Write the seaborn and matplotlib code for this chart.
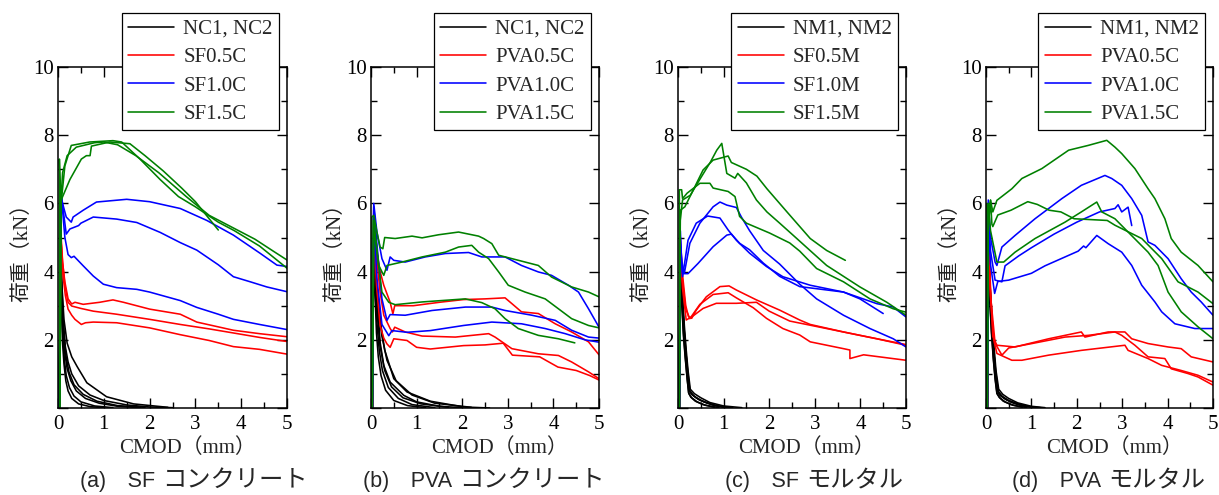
import numpy as np
import pandas as pd
import matplotlib
matplotlib.use("Agg")
import matplotlib.pyplot as plt
from matplotlib.lines import Line2D
from matplotlib.ticker import MultipleLocator
import seaborn as sns

# --- donnees (CMOD mm, charge kN) ---

# (a) SF concrete
a_nc = [
    ([0.03, 0.05, 0.08, 0.12, 0.16, 0.22, 0.3, 0.45, 0.7, 1.0, 1.5, 2.0, 2.5],
     [0, 4.8, 3.6, 2.5, 1.8, 1.35, 1.0, 0.65, 0.38, 0.22, 0.09, 0.03, 0.01]),
    ([0.03, 0.05, 0.08, 0.11, 0.15, 0.2, 0.28, 0.4, 0.6, 0.9, 1.3, 1.8],
     [0, 4.5, 3.3, 2.2, 1.6, 1.15, 0.8, 0.5, 0.28, 0.14, 0.05, 0.01]),
    ([0.03, 0.05, 0.08, 0.11, 0.14, 0.18, 0.25, 0.35, 0.5, 0.8, 1.2],
     [0, 4.2, 3.0, 2.0, 1.4, 0.95, 0.6, 0.35, 0.18, 0.06, 0.01]),
    ([0.03, 0.05, 0.08, 0.1, 0.13, 0.17, 0.22, 0.3, 0.45, 0.7, 1.0],
     [0, 4.0, 2.7, 1.9, 1.3, 0.8, 0.5, 0.28, 0.12, 0.04, 0.01]),
    ([0.03, 0.05, 0.08, 0.12, 0.17, 0.24, 0.35, 0.55, 0.85, 1.3, 1.9],
     [0, 4.6, 3.4, 2.3, 1.55, 1.05, 0.68, 0.4, 0.2, 0.07, 0.02]),
    ([0.03, 0.06, 0.09, 0.13, 0.2, 0.3, 0.42, 0.63, 1.06, 1.65, 2.4],
     [0, 4.9, 3.5, 2.6, 1.9, 1.5, 1.21, 0.74, 0.33, 0.12, 0.02]),
]
a_05 = [
    ([0.03, 0.06, 0.1, 0.15, 0.22, 0.3, 0.37, 0.55, 0.91, 1.2, 1.43, 2.0, 2.67, 3.03, 3.83, 4.4, 5.0],
     [0, 5.0, 4.26, 3.7, 3.2, 3.05, 3.1, 3.04, 3.1, 3.17, 3.1, 2.9, 2.75, 2.52, 2.28, 2.18, 2.09]),
    ([0.03, 0.06, 0.1, 0.15, 0.22, 0.3, 0.5, 0.77, 1.28, 2.0, 2.67, 3.3, 3.83, 4.4, 5.0],
     [0, 5.2, 4.3, 3.6, 3.1, 2.99, 2.92, 2.84, 2.75, 2.6, 2.45, 2.32, 2.2, 2.07, 1.95]),
    ([0.03, 0.06, 0.1, 0.16, 0.22, 0.3, 0.37, 0.51, 0.6, 0.77, 1.28, 2.0, 2.67, 3.3, 3.83, 4.4, 5.0],
     [0, 5.1, 4.0, 3.3, 2.9, 2.72, 2.6, 2.45, 2.5, 2.52, 2.5, 2.35, 2.15, 1.98, 1.8, 1.72, 1.58]),
]
a_10 = [
    ([0.03, 0.06, 0.1, 0.18, 0.29, 0.33, 0.55, 0.84, 1.5, 2.0, 2.67, 3.25, 3.83, 4.41, 4.78, 5.0],
     [0, 6.3, 6.0, 5.6, 5.45, 5.6, 5.8, 6.04, 6.12, 6.05, 5.85, 5.5, 5.07, 4.54, 4.19, 4.15]),
    ([0.03, 0.06, 0.1, 0.18, 0.26, 0.45, 0.5, 0.77, 1.28, 1.72, 2.23, 2.67, 3.03, 3.5, 3.83, 4.2, 4.56, 5.0],
     [0, 6.4, 5.95, 5.1, 5.25, 5.35, 5.42, 5.6, 5.54, 5.44, 5.15, 4.85, 4.63, 4.2, 3.85, 3.7, 3.55, 3.41]),
    ([0.03, 0.06, 0.1, 0.15, 0.22, 0.29, 0.35, 0.55, 0.77, 0.99, 1.28, 1.72, 2.0, 2.67, 3.03, 3.5, 3.83, 4.4, 5.0],
     [0, 6.3, 5.8, 5.0, 4.5, 4.41, 4.45, 4.17, 3.87, 3.63, 3.53, 3.48, 3.4, 3.15, 2.95, 2.75, 2.6, 2.45, 2.3]),
]
a_15 = [
    ([0.03, 0.03, 0.06, 0.1, 0.2, 0.4, 0.8, 1.0, 1.3, 1.7, 2.2, 2.8, 3.3, 3.8, 4.3, 4.7, 5.0],
     [0, 7.3, 6.0, 6.9, 7.4, 7.65, 7.78, 7.8, 7.72, 7.4, 6.9, 6.2, 5.65, 5.3, 4.95, 4.6, 4.34]),
    ([0.04, 0.07, 0.26, 0.51, 0.62, 0.7, 0.73, 1.13, 1.57, 1.9, 2.3, 2.7, 3.0, 3.3, 3.5],
     [0, 6.1, 6.7, 7.3, 7.4, 7.4, 7.68, 7.8, 7.75, 7.4, 6.95, 6.45, 6.05, 5.55, 5.22]),
    ([0.04, 0.07, 0.15, 0.29, 0.69, 1.2, 1.39, 1.79, 2.23, 2.63, 3.0, 3.5, 3.85, 4.4, 5.0],
     [0, 6.04, 7.1, 7.7, 7.8, 7.84, 7.8, 7.3, 6.7, 6.2, 5.9, 5.45, 5.2, 4.75, 4.1]),
]

# (b) PVA concrete
b_nc = [
    ([0.03, 0.06, 0.1, 0.15, 0.2, 0.28, 0.42, 0.72, 1.0, 1.5, 2.0],
     [0, 5.0, 4.0, 2.9, 1.93, 1.25, 0.76, 0.37, 0.18, 0.05, 0.01]),
    ([0.03, 0.06, 0.1, 0.15, 0.22, 0.3, 0.5, 0.79, 1.3, 2.03, 2.6],
     [0, 5.2, 4.2, 3.2, 2.4, 1.7, 0.86, 0.47, 0.2, 0.03, 0.0]),
    ([0.03, 0.06, 0.09, 0.13, 0.18, 0.25, 0.38, 0.6, 0.9, 1.4],
     [0, 4.8, 3.6, 2.5, 1.7, 1.1, 0.6, 0.28, 0.1, 0.01]),
    ([0.03, 0.06, 0.09, 0.12, 0.16, 0.22, 0.32, 0.5, 0.8, 1.2],
     [0, 4.6, 3.3, 2.2, 1.5, 0.95, 0.52, 0.22, 0.07, 0.01]),
    ([0.03, 0.06, 0.1, 0.14, 0.2, 0.3, 0.45, 0.7, 1.1, 1.7],
     [0, 4.9, 3.8, 2.7, 1.8, 1.1, 0.62, 0.3, 0.12, 0.02]),
    ([0.03, 0.06, 0.1, 0.16, 0.24, 0.35, 0.55, 0.9, 1.4, 2.2],
     [0, 5.1, 4.1, 3.0, 2.1, 1.4, 0.8, 0.38, 0.14, 0.02]),
]
b_05 = [
    ([0.03, 0.06, 0.13, 0.2, 0.28, 0.42, 0.48, 0.52, 0.93, 1.5, 2.03, 2.5, 2.94, 3.09, 3.3, 3.67, 4.04, 4.4, 4.77, 5.0],
     [0, 5.8, 4.57, 4.0, 3.6, 3.1, 2.76, 3.0, 3.0, 3.1, 3.18, 3.2, 3.23, 3.06, 2.82, 2.77, 2.47, 2.23, 1.94, 1.56]),
    ([0.03, 0.06, 0.13, 0.2, 0.28, 0.42, 0.47, 0.52, 0.75, 1.12, 1.85, 2.58, 2.72, 3.09, 3.67, 4.11, 4.4, 4.77, 5.0],
     [0, 5.6, 4.3, 3.4, 2.72, 2.33, 2.23, 2.37, 2.23, 2.11, 2.08, 2.18, 2.08, 1.74, 1.59, 1.54, 1.35, 1.06, 0.86]),
    ([0.03, 0.06, 0.12, 0.2, 0.28, 0.35, 0.42, 0.5, 0.79, 1.0, 1.3, 2.03, 2.5, 2.9, 3.1, 3.7, 4.1, 4.5, 4.8, 5.0],
     [0, 5.4, 3.6, 2.42, 2.05, 1.88, 1.78, 2.03, 1.98, 1.78, 1.73, 1.83, 1.85, 1.9, 1.55, 1.5, 1.2, 1.1, 0.95, 0.82]),
]
b_10 = [
    ([0.03, 0.06, 0.13, 0.24, 0.35, 0.42, 0.5, 0.75, 1.19, 1.63, 2.14, 2.43, 2.94, 3.3, 3.67, 3.96, 4.33, 4.55, 4.77, 5.0],
     [0, 6.0, 5.16, 4.38, 4.04, 4.43, 4.33, 4.28, 4.43, 4.53, 4.56, 4.43, 4.43, 4.18, 3.99, 3.89, 3.6, 3.4, 2.91, 2.37]),
    ([0.03, 0.06, 0.13, 0.24, 0.35, 0.42, 0.75, 1.34, 2.07, 2.65, 2.94, 3.53, 4.04, 4.4, 4.77, 5.0],
     [0, 5.9, 4.8, 3.2, 2.57, 2.74, 2.72, 2.86, 2.96, 2.96, 2.86, 2.72, 2.57, 2.28, 2.08, 2.05]),
    ([0.03, 0.06, 0.13, 0.24, 0.39, 0.46, 0.79, 1.3, 2.03, 2.65, 3.3, 3.82, 4.26, 4.69, 5.0],
     [0, 5.7, 3.8, 2.45, 2.12, 2.27, 2.22, 2.27, 2.42, 2.52, 2.47, 2.33, 2.18, 2.0, 1.93]),
]
b_15 = [
    ([0.02, 0.02, 0.06, 0.13, 0.2, 0.26, 0.3, 0.53, 0.9, 1.12, 1.48, 1.92, 2.36, 2.47, 2.65, 2.8, 3.09, 3.67, 3.96, 4.4, 4.77, 5.0],
     [0, 5.6, 5.65, 5.16, 4.72, 4.67, 5.0, 4.97, 5.04, 4.99, 5.08, 5.16, 5.04, 4.97, 4.82, 4.48, 4.38, 4.18, 3.84, 3.55, 3.4, 3.26]),
    ([0.03, 0.06, 0.17, 0.28, 0.35, 0.68, 1.12, 1.63, 1.92, 2.21, 2.36, 2.58, 2.8, 3.01, 3.38, 3.82, 4.11, 4.4, 4.77, 5.0],
     [0, 5.5, 4.18, 3.89, 4.18, 4.28, 4.43, 4.57, 4.72, 4.77, 4.57, 4.38, 3.99, 3.6, 3.4, 3.2, 2.91, 2.62, 2.42, 2.35]),
    ([0.03, 0.06, 0.24, 0.39, 0.53, 1.12, 2.07, 2.43, 2.72, 2.94, 3.23, 3.67, 4.11, 4.47],
     [0, 5.3, 3.4, 3.1, 3.03, 3.11, 3.2, 3.09, 2.91, 2.62, 2.33, 2.13, 2.03, 1.91]),
]

# (c) SF mortar
c_nm = [
    ([0.03, 0.05, 0.09, 0.13, 0.17, 0.21, 0.24, 0.3, 0.4, 0.57, 0.8, 1.1],
     [0, 4.4, 3.3, 2.3, 1.6, 1.0, 0.54, 0.4, 0.3, 0.18, 0.07, 0.01]),
    ([0.03, 0.05, 0.09, 0.13, 0.17, 0.21, 0.25, 0.32, 0.45, 0.65, 0.9, 1.2],
     [0, 4.5, 3.4, 2.4, 1.7, 1.05, 0.5, 0.38, 0.25, 0.14, 0.05, 0.01]),
    ([0.03, 0.05, 0.08, 0.12, 0.16, 0.2, 0.23, 0.28, 0.38, 0.55, 0.8],
     [0, 4.2, 3.2, 2.2, 1.5, 0.9, 0.45, 0.32, 0.2, 0.1, 0.02]),
    ([0.03, 0.05, 0.09, 0.13, 0.17, 0.22, 0.26, 0.35, 0.5, 0.75, 1.0],
     [0, 4.3, 3.3, 2.35, 1.65, 1.0, 0.5, 0.35, 0.22, 0.1, 0.02]),
    ([0.03, 0.05, 0.08, 0.12, 0.16, 0.2, 0.24, 0.3, 0.42, 0.6, 0.9],
     [0, 4.1, 3.1, 2.1, 1.45, 0.85, 0.42, 0.3, 0.18, 0.08, 0.01]),
    ([0.03, 0.05, 0.09, 0.14, 0.18, 0.22, 0.27, 0.36, 0.5, 0.7, 1.0, 1.4],
     [0, 4.6, 3.5, 2.4, 1.7, 1.1, 0.55, 0.42, 0.3, 0.16, 0.06, 0.01]),
]
c_05 = [
    ([0.03, 0.05, 0.1, 0.17, 0.23, 0.3, 0.4, 0.62, 0.92, 1.12, 1.28, 1.72, 2.23, 2.67, 2.9, 3.63, 4.36, 5.0],
     [0, 5.0, 3.9, 3.0, 2.68, 2.63, 2.87, 3.26, 3.56, 3.58, 3.46, 3.17, 2.87, 2.58, 2.45, 2.23, 2.03, 1.84]),
    ([0.03, 0.05, 0.1, 0.17, 0.26, 0.48, 0.77, 1.1, 1.28, 1.65, 1.94, 2.3, 2.67, 2.9, 3.63, 3.77, 3.77, 4.07, 5.0],
     [0, 4.8, 3.7, 2.9, 2.62, 3.04, 3.33, 3.38, 3.23, 2.94, 2.63, 2.33, 2.14, 1.94, 1.74, 1.7, 1.45, 1.56, 1.4]),
    ([0.03, 0.05, 0.1, 0.18, 0.33, 0.55, 0.84, 1.28, 1.72, 2.0, 2.45, 3.26, 3.99, 5.0],
     [0, 4.6, 3.5, 2.58, 2.7, 2.92, 3.07, 3.07, 3.1, 2.84, 2.55, 2.33, 2.13, 1.86]),
]
c_10 = [
    ([0.03, 0.05, 0.08, 0.14, 0.26, 0.48, 0.77, 0.92, 1.07, 1.28, 1.39, 1.57, 1.87, 2.23, 2.67, 3.04, 3.63, 4.21, 4.72, 5.0],
     [0, 5.2, 4.3, 3.96, 4.83, 5.42, 5.9, 6.04, 5.95, 5.88, 5.6, 5.2, 4.62, 4.22, 3.63, 3.2, 2.72, 2.33, 2.03, 1.79]),
    ([0.03, 0.05, 0.1, 0.22, 0.4, 0.65, 0.92, 1.1, 1.28, 1.57, 1.94, 2.3, 2.9, 3.63, 4.36, 4.72, 5.0],
     [0, 5.0, 3.85, 4.92, 5.42, 5.63, 5.57, 5.22, 4.92, 4.54, 4.15, 3.85, 3.6, 3.4, 3.06, 2.96, 2.67]),
    ([0.03, 0.05, 0.1, 0.22, 0.44, 0.77, 1.07, 1.17, 1.35, 1.57, 1.87, 2.23, 2.67, 3.63, 3.99, 4.5],
     [0, 4.8, 3.94, 3.94, 4.24, 4.73, 5.07, 5.1, 4.83, 4.64, 4.25, 3.86, 3.56, 3.4, 3.2, 2.77]),
]
c_15 = [
    ([0.03, 0.05, 0.1, 0.27, 0.49, 0.71, 0.85, 0.96, 1.07, 1.25, 1.31, 1.5, 1.72, 1.95, 2.23, 2.53, 3.26, 3.99, 4.58, 5.0],
     [0, 5.5, 6.1, 6.24, 6.73, 7.21, 7.56, 7.76, 6.88, 6.74, 6.88, 6.6, 6.1, 5.75, 5.42, 5.06, 4.18, 3.55, 3.1, 2.72]),
    ([0.03, 0.05, 0.15, 0.3, 0.55, 0.77, 1.1, 1.17, 1.5, 1.73, 1.95, 2.39, 2.9, 3.26, 3.67],
     [0, 5.8, 5.9, 6.3, 6.98, 7.27, 7.39, 7.2, 7.0, 6.8, 6.43, 5.75, 4.97, 4.62, 4.33]),
    ([0.03, 0.03, 0.08, 0.1, 0.2, 0.48, 0.7, 0.77, 1.1, 1.25, 1.35, 1.5, 2.01, 2.45, 2.67, 3.04, 3.63, 4.21, 4.72, 5.0],
     [0, 6.4, 6.4, 6.14, 6.3, 6.59, 6.59, 6.45, 6.35, 6.2, 5.62, 5.42, 5.13, 4.84, 4.6, 4.09, 3.7, 3.2, 2.91, 2.81]),
]

# (d) PVA mortar
d_nm = [
    ([0.03, 0.05, 0.09, 0.13, 0.17, 0.21, 0.25, 0.3, 0.4, 0.57, 0.8, 1.1],
     [0, 4.6, 3.4, 2.4, 1.6, 1.0, 0.52, 0.38, 0.28, 0.16, 0.06, 0.01]),
    ([0.03, 0.05, 0.09, 0.13, 0.17, 0.21, 0.26, 0.33, 0.45, 0.65, 0.9, 1.2],
     [0, 4.7, 3.5, 2.5, 1.7, 1.05, 0.5, 0.36, 0.24, 0.13, 0.05, 0.01]),
    ([0.03, 0.05, 0.08, 0.12, 0.16, 0.2, 0.24, 0.29, 0.38, 0.55, 0.8],
     [0, 4.4, 3.3, 2.3, 1.5, 0.9, 0.45, 0.32, 0.2, 0.1, 0.02]),
    ([0.03, 0.05, 0.09, 0.13, 0.17, 0.22, 0.27, 0.36, 0.5, 0.75, 1.0],
     [0, 4.5, 3.4, 2.4, 1.65, 1.0, 0.48, 0.34, 0.22, 0.1, 0.02]),
    ([0.03, 0.05, 0.08, 0.12, 0.16, 0.2, 0.24, 0.3, 0.42, 0.6, 0.9],
     [0, 4.3, 3.2, 2.2, 1.45, 0.85, 0.42, 0.3, 0.18, 0.08, 0.01]),
    ([0.03, 0.05, 0.09, 0.14, 0.18, 0.22, 0.28, 0.37, 0.5, 0.7, 1.0, 1.3],
     [0, 4.8, 3.6, 2.5, 1.75, 1.1, 0.55, 0.4, 0.28, 0.15, 0.05, 0.01]),
]
d_05 = [
    ([0.03, 0.05, 0.1, 0.15, 0.24, 0.64, 1.38, 2.1, 2.18, 2.69, 3.06, 3.21, 3.57, 4.01, 4.3, 4.52, 5.0],
     [0, 5.6, 3.5, 2.1, 1.84, 1.79, 2.03, 2.23, 2.08, 2.23, 2.23, 2.03, 1.89, 1.79, 1.74, 1.5, 1.35]),
    ([0.03, 0.05, 0.1, 0.2, 0.35, 0.5, 1.01, 1.74, 2.25, 2.84, 2.99, 3.28, 3.57, 3.94, 4.08, 4.45, 4.67, 5.0],
     [0, 5.4, 3.3, 1.9, 1.55, 1.76, 1.89, 2.08, 2.13, 2.23, 2.13, 1.84, 1.5, 1.45, 1.15, 1.01, 0.91, 0.67]),
    ([0.03, 0.05, 0.1, 0.17, 0.24, 0.57, 0.79, 1.38, 2.1, 3.06, 3.13, 3.57, 3.87, 4.3, 4.67, 5.0],
     [0, 5.2, 3.2, 2.0, 1.6, 1.4, 1.4, 1.55, 1.69, 1.84, 1.69, 1.45, 1.25, 1.1, 0.96, 0.76]),
]
d_10 = [
    ([0.03, 0.05, 0.1, 0.2, 0.24, 0.35, 0.64, 1.08, 1.67, 2.1, 2.62, 2.77, 2.99, 3.21, 3.43, 3.57, 3.72, 4.01, 4.3, 4.52, 4.74, 5.0],
     [0, 6.1, 5.0, 4.28, 4.18, 4.72, 5.06, 5.55, 6.14, 6.53, 6.82, 6.73, 6.53, 6.14, 5.65, 4.87, 4.77, 4.38, 3.79, 3.4, 3.11, 2.72]),
    ([0.03, 0.05, 0.1, 0.2, 0.35, 0.42, 0.72, 1.0, 1.5, 2.0, 2.5, 2.84, 2.91, 2.99, 3.13, 3.21],
     [0, 5.7, 4.6, 3.75, 3.7, 4.17, 4.46, 4.7, 5.1, 5.45, 5.75, 5.85, 5.96, 5.75, 5.89, 5.35]),
    ([0.03, 0.05, 0.1, 0.19, 0.26, 0.5, 1.0, 1.3, 2.03, 2.15, 2.2, 2.44, 2.69, 2.99, 3.21, 3.43, 3.72, 3.87, 4.16, 4.6, 5.0],
     [0, 5.5, 4.2, 3.36, 3.71, 3.75, 3.95, 4.17, 4.6, 4.75, 4.7, 5.06, 4.82, 4.57, 4.18, 3.6, 3.11, 2.82, 2.47, 2.33, 2.33]),
]
d_15 = [
    ([0.03, 0.05, 0.1, 0.15, 0.24, 0.57, 0.79, 1.23, 1.82, 2.25, 2.66, 2.84, 2.99, 3.28, 3.57, 3.72, 3.94, 4.08, 4.3, 4.67, 5.0],
     [0, 5.6, 6.09, 5.75, 6.09, 6.43, 6.73, 7.02, 7.56, 7.7, 7.85, 7.65, 7.46, 7.02, 6.43, 6.14, 5.55, 4.97, 4.57, 4.18, 3.7]),
    ([0.02, 0.02, 0.07, 0.1, 0.13, 0.15, 0.26, 0.55, 0.92, 1.13, 1.39, 1.65, 1.94, 2.67, 2.84, 3.43, 3.87, 4.23, 4.67, 5.0],
     [0, 6.0, 5.6, 6.1, 5.39, 5.32, 5.66, 5.8, 6.05, 5.97, 5.8, 5.75, 5.55, 5.5, 5.36, 4.97, 4.38, 3.7, 3.4, 3.06]),
    ([0.03, 0.05, 0.1, 0.24, 0.39, 0.64, 1.08, 1.74, 2.1, 2.44, 2.55, 2.84, 3.13, 3.57, 3.79, 4.01, 4.3, 4.67, 5.0],
     [0, 6.0, 5.2, 4.28, 4.28, 4.57, 4.97, 5.45, 5.75, 6.04, 5.75, 5.55, 5.16, 4.57, 4.18, 3.4, 2.82, 2.38, 2.03]),
]

labels_a = ["NC1, NC2", "SF0.5C", "SF1.0C", "SF1.5C"]
labels_b = ["NC1, NC2", "PVA0.5C", "PVA1.0C", "PVA1.5C"]
labels_c = ["NM1, NM2", "SF0.5M", "SF1.0M", "SF1.5M"]
labels_d = ["NM1, NM2", "PVA0.5C", "PVA1.0C", "PVA1.5C"]
cap_tags = ["(a)\u3000SF", "(b)\u3000PVA", "(c)\u3000SF", "(d)\u3000PVA"]
cap_words = ["コンクリート", "コンクリート", "モルタル", "モルタル"]

colors = ["black", "#ff0000", "#0000ff", "#008000"]


def to_frame(curves):
    rows = []
    for i, (xs, ys) in enumerate(curves):
        for x, y in zip(xs, ys):
            rows.append((i, x, y))
    return pd.DataFrame(rows, columns=["spec", "x", "y"])


sns.set_theme(style="ticks")
serif = ["Liberation Serif", "Noto Sans CJK JP"]
sans = ["Liberation Sans", "Noto Sans CJK JP"]
plt.rcParams["font.family"] = serif
plt.rcParams["axes.linewidth"] = 1.1

fig = plt.figure(figsize=(12.19, 4.95), dpi=100)
renderer = fig.canvas.get_renderer()

lefts = [58, 371, 678, 986]
widths = [229, 228, 228, 227]
cap_x = [80, 363, 725, 1012]
panels = [
    (labels_a, [a_nc, a_05, a_10, a_15]),
    (labels_b, [b_nc, b_05, b_10, b_15]),
    (labels_c, [c_nm, c_05, c_10, c_15]),
    (labels_d, [d_nm, d_05, d_10, d_15]),
]

W, H = 1219.0, 495.0
for k, (labels, groups) in enumerate(panels):
    ax = fig.add_axes([lefts[k] / W, 1 - 408 / H, widths[k] / W, 341 / H])
    for curves, c in zip(groups, colors):
        sns.lineplot(data=to_frame(curves), x="x", y="y", units="spec",
                     estimator=None, sort=False, color=c, lw=1.15,
                     ax=ax, legend=False)
    ax.set_xlim(0, 5)
    ax.set_ylim(0, 10)
    ax.set_xticks(range(6))
    ax.set_yticks([0, 2, 4, 6, 8, 10])
    ax.set_yticklabels(["", "2", "4", "6", "8", "10"])
    ax.xaxis.set_minor_locator(MultipleLocator(0.5))
    ax.yaxis.set_minor_locator(MultipleLocator(1))
    ax.tick_params(which="both", direction="in", top=True, right=True,
                   width=1.0, labelsize=15, colors="black")
    ax.tick_params(which="major", length=7)
    ax.tick_params(which="minor", length=4)
    ax.tick_params(axis="x", pad=5)
    ax.tick_params(axis="y", pad=3)
    for s in ax.spines.values():
        s.set_color("black")

    ax.set_xlabel("")
    ax.set_ylabel("")
    ax.text(0.565, -0.117, "CMOD（mm）", transform=ax.transAxes,
            ha="center", va="center", fontsize=15, family=serif)
    ax.text(-0.155, 0.472, "荷重（kN）", transform=ax.transAxes,
            ha="center", va="center", rotation=90, fontsize=15,
            family=serif, color="#222222")

    handles = [Line2D([], [], color=c, lw=1.15) for c in colors]
    leg = ax.legend(handles, labels, loc="upper right",
                    bbox_to_anchor=(0.965, 1.158), fontsize=15,
                    frameon=True, fancybox=False, framealpha=1,
                    edgecolor="black", borderaxespad=0, borderpad=0.3,
                    labelspacing=0.42, handlelength=2.2, handletextpad=0.45)
    leg.get_frame().set_linewidth(0.9)

    # caption: latin part, then katakana a bit larger right after it
    t = fig.text(cap_x[k] / W, 1 - 481 / H, cap_tags[k], family=sans,
                 fontsize=15.5, ha="left", va="center")
    bb = t.get_window_extent(renderer)
    fig.text((bb.x1 + 7) / W, 1 - 481 / H, cap_words[k], family=sans,
             fontsize=17.5, ha="left", va="center")

fig.savefig("out.png", dpi=100)
